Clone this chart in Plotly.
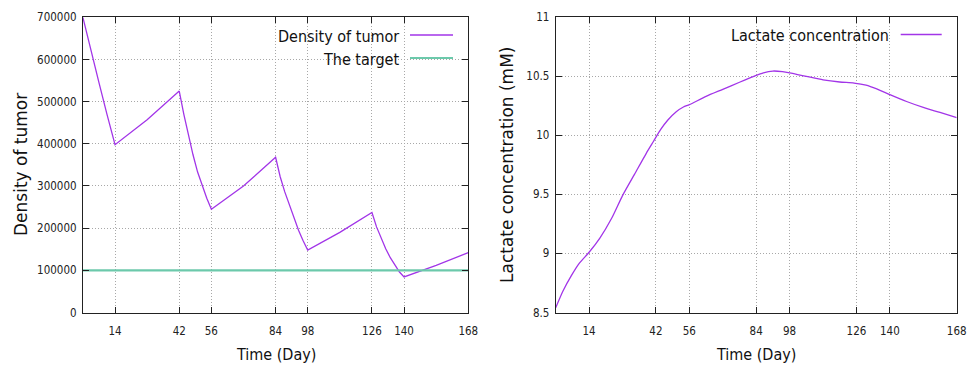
import plotly.graph_objects as go

# ---- data -------------------------------------------------------------
# Tumor density over the treatment course (cells), sampled along the curve
days_tumor = [0, 3.5, 7, 10.5, 14, 28, 42, 44, 46, 48, 50, 52, 54, 56, 70,
              84, 86, 88, 90, 92, 94, 96, 98, 112,
              126, 128, 130, 132, 134, 136, 138, 140, 154, 168]
tumor_density = [700000, 620000, 545000, 470000, 398000, 457000, 525000, 470000,
                 420000, 374000, 333000, 300000, 271000, 245000, 300000,
                 368000, 322000, 286000, 254000, 222000, 195000, 170000, 148000,
                 190000,
                 237000, 203000, 175000, 151000, 130000, 112000, 96000, 84500,
                 112000, 142000]

# Target density level
target_days = [0, 168]
target_level = [100000, 100000]

# Lactate concentration (mM)
days_lactate = [0, 3, 6.5, 10, 14, 18.5, 23.5, 28, 33, 38, 41, 44, 47, 50.5,
                53.5, 56, 63, 70, 77, 83, 87, 91, 95, 98, 105, 112, 119, 125,
                130, 134.5, 140, 147, 154, 161, 168]
lactate_mM = [8.54, 8.68, 8.81, 8.92, 9.01, 9.13, 9.30, 9.49, 9.67, 9.85, 9.95,
              10.05, 10.13, 10.20, 10.24, 10.26, 10.33, 10.39, 10.45, 10.50,
              10.53, 10.545, 10.54, 10.53, 10.50, 10.47, 10.452, 10.443, 10.425,
              10.393, 10.345, 10.287, 10.237, 10.194, 10.15]

x_ticks = [14, 42, 56, 84, 98, 126, 140, 168]
density_ticks = [0, 100000, 200000, 300000, 400000, 500000, 600000, 700000]
lactate_ticks = [8.5, 9, 9.5, 10, 10.5, 11]
lactate_tick_text = ["8.5", "9", "9.5", "10", "10.5", "11"]

# ---- styling ----------------------------------------------------------
W, H = 968, 365
PURPLE = "#a235e8"
TEAL = "#6cc9ab"
COND = "DejaVu Sans Condensed, Liberation Sans Narrow, DejaVu Sans, sans-serif"
REG = "DejaVu Sans, sans-serif"
TICK_FONT = dict(family=COND, size=11.5, color="#222222")


def px_x(x):
    return x / W


def px_y(y):
    return 1 - y / H


fig = go.Figure()

fig.add_trace(go.Scatter(x=days_tumor, y=tumor_density, mode="lines",
                         line=dict(color=PURPLE, width=1.3),
                         xaxis="x", yaxis="y", showlegend=False))
fig.add_trace(go.Scatter(x=target_days, y=target_level, mode="lines",
                         line=dict(color=TEAL, width=2.2),
                         xaxis="x", yaxis="y", showlegend=False))
fig.add_trace(go.Scatter(x=days_lactate, y=lactate_mM, mode="lines",
                         line=dict(color=PURPLE, width=1.3, shape="spline", smoothing=0.6),
                         xaxis="x2", yaxis="y2", showlegend=False))

axis_common = dict(
    showline=True, linecolor="#222222", linewidth=1, mirror="allticks",
    ticks="inside", ticklen=6, tickcolor="#222222", tickwidth=1,
    showgrid=True, gridcolor="#a8a8a8", griddash="1px,2px", gridwidth=1,
    zeroline=False, tickfont=TICK_FONT, automargin=False,
)

ydom = [px_y(312.5), px_y(17.3)]

fig.update_layout(
    width=W, height=H, autosize=False,
    margin=dict(l=0, r=0, t=0, b=0, pad=0, autoexpand=False),
    paper_bgcolor="white", plot_bgcolor="white",
    showlegend=False,
    xaxis=dict(domain=[px_x(82.9), px_x(468.3)], range=[0, 168],
               tickvals=x_ticks, anchor="y", ticklabelstandoff=8, **axis_common),
    yaxis=dict(domain=ydom, range=[0, 700000], tickvals=density_ticks,
               tickformat="d", anchor="x", ticklabelstandoff=3, **axis_common),
    xaxis2=dict(domain=[px_x(555.7), px_x(956.7)], range=[0, 168],
                tickvals=x_ticks, anchor="y2", ticklabelstandoff=8, **axis_common),
    yaxis2=dict(domain=ydom, range=[8.5, 11], tickvals=lactate_ticks,
                ticktext=lactate_tick_text, anchor="x2", ticklabelstandoff=3,
                **axis_common),
)

shapes = [
    # key boxes hide the grid behind them
    dict(type="rect", xref="paper", yref="paper", layer="between",
         x0=px_x(255), x1=px_x(462), y0=px_y(70), y1=px_y(18.5),
         fillcolor="white", line=dict(width=0)),
    dict(type="rect", xref="paper", yref="paper", layer="between",
         x0=px_x(735), x1=px_x(951), y0=px_y(47), y1=px_y(18.5),
         fillcolor="white", line=dict(width=0)),
    # key line samples
    dict(type="line", xref="paper", yref="paper", x0=px_x(410), x1=px_x(453),
         y0=px_y(35), y1=px_y(35), line=dict(color=PURPLE, width=1.3)),
    dict(type="line", xref="paper", yref="paper", x0=px_x(410), x1=px_x(453),
         y0=px_y(58), y1=px_y(58), line=dict(color=TEAL, width=2.2)),
    dict(type="line", xref="paper", yref="paper", x0=px_x(900.7), x1=px_x(941.7),
         y0=px_y(34.5), y1=px_y(34.5), line=dict(color=PURPLE, width=1.3)),
]
fig.update_layout(shapes=shapes)

KEY_FONT = dict(family=COND, size=16, color="#111111")
TITLE_FONT = dict(family=COND, size=16, color="#111111")
YT_FONT = dict(family=REG, size=17, color="#111111")

annotations = [
    dict(text="Density of tumor", x=px_x(401), y=px_y(36.5), xanchor="right",
         yanchor="middle", font=KEY_FONT),
    dict(text="The target", x=px_x(401), y=px_y(59), xanchor="right",
         yanchor="middle", font=KEY_FONT),
    dict(text="Lactate concentration", x=px_x(891), y=px_y(35.5), xanchor="right",
         yanchor="middle", font=KEY_FONT),
    dict(text="Time (Day)", x=px_x(275.6), y=px_y(354), xanchor="center",
         yanchor="middle", font=TITLE_FONT),
    dict(text="Time (Day)", x=px_x(756.2), y=px_y(354), xanchor="center",
         yanchor="middle", font=TITLE_FONT),
    dict(text="Density of tumor", x=px_x(21), y=px_y(165), textangle=-90,
         xanchor="center", yanchor="middle", font=YT_FONT),
    dict(text="Lactate concentration (mM)", x=px_x(507), y=px_y(165), textangle=-90,
         xanchor="center", yanchor="middle", font=YT_FONT),
]
for a in annotations:
    a.update(xref="paper", yref="paper", showarrow=False)
fig.update_layout(annotations=annotations)

# page without body margin or scrollbars so the figure sits at the origin
page_style = ("document.documentElement.style.margin='0';"
              "document.body.style.margin='0';"
              "document.documentElement.style.overflow='hidden';"
              "document.body.style.overflow='hidden';")

fig.write_html("out.html", config={"responsive": False}, post_script=page_style)
